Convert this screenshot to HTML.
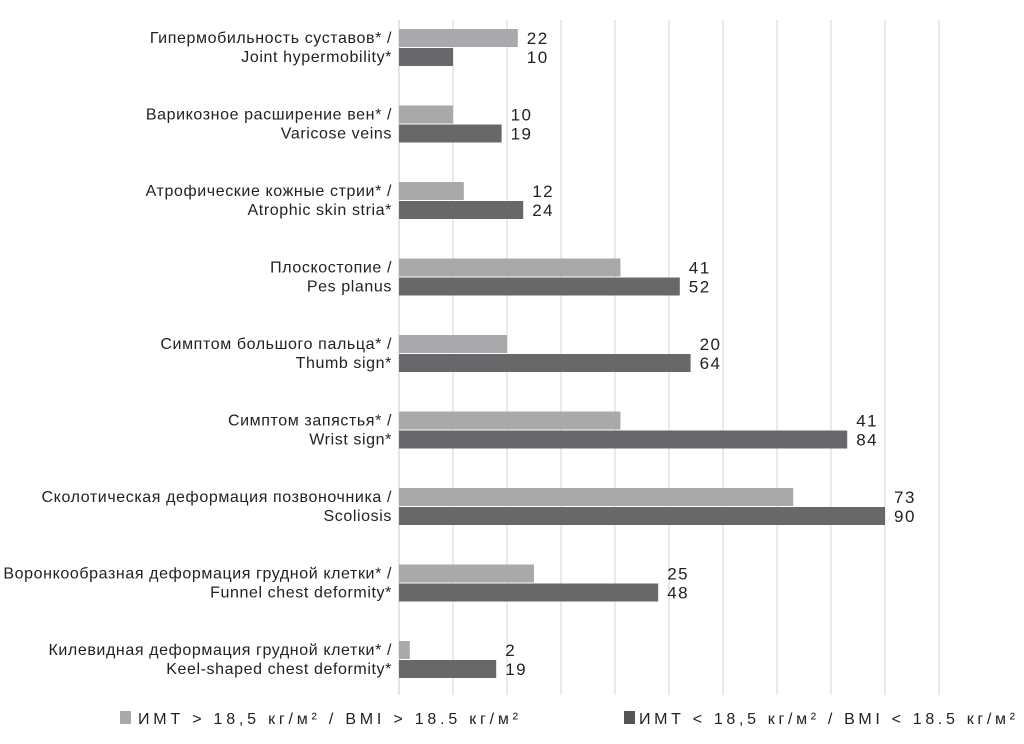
<!DOCTYPE html>
<html><head><meta charset="utf-8">
<style>
body{margin:0;background:#fff;}
svg text{font-family:"Liberation Sans","DejaVu Sans",sans-serif;fill:#222;}
</style></head>
<body>
<svg id="chart" width="1024" height="739" xmlns="http://www.w3.org/2000/svg"></svg>
<script>
const categoriesRu = ["Гипермобильность суставов* /","Варикозное расширение вен* /","Атрофические кожные стрии* /","Плоскостопие /","Симптом большого пальца* /","Симптом запястья* /","Сколотическая деформация позвоночника /","Воронкообразная деформация грудной клетки* /","Килевидная деформация грудной клетки* /"];
const categoriesEn = ["Joint hypermobility*","Varicose veins","Atrophic skin stria*","Pes planus","Thumb sign*","Wrist sign*","Scoliosis","Funnel chest deformity*","Keel-shaped chest deformity*"];
const seriesHigh = [22,10,12,41,20,41,73,25,2];
const seriesLow = [10,19,23,52,54,83,90,48,18];
const labelsHigh = ["22","10","12","41","20","41","73","25","2"];
const labelsLow = ["10","19","24","52","64","84","90","48","19"];
const gridTicks = [0,10,20,30,40,50,60,70,80,90,100];

const svg = document.getElementById('chart');
const NS = "http://www.w3.org/2000/svg";
const x0 = 399, pxPer = 5.4;
const xs = v => x0 + v * pxPer;
const groupY = i => 29 + i * 76.5;
function mk(tag, attrs, txt){const e=document.createElementNS(NS,tag);for(const k in attrs)e.setAttribute(k,attrs[k]);if(txt!==undefined)e.textContent=txt;svg.appendChild(e);return e;}

gridTicks.forEach(t=>{
  const l=mk('line',{x1:xs(t),x2:xs(t),y1:20,y2:695,stroke:t===0?'#c8c8c8':'#d4d4d4','stroke-width':1});
  
  
});

categoriesRu.forEach((c,i)=>{
  const y=groupY(i);
  const b1=mk('rect',{x:x0,y:y,width:xs(seriesHigh[i])-x0,height:18,fill:'#a9a9ab'});
  
  
  const b2=mk('rect',{x:x0,y:y+19,width:xs(seriesLow[i])-x0,height:18,fill:'#68686a'});
  
  
  const t1=mk('text',{x:392,y:y+14,'text-anchor':'end','font-size':16,'letter-spacing':0.6},c);
  
  
  const t2=mk('text',{x:392,y:y+33,'text-anchor':'end','font-size':16,'letter-spacing':0.6},categoriesEn[i]);
  
  
  const lx=xs(Math.max(seriesHigh[i],seriesLow[i]))+9;
  const v1=mk('text',{x:lx,y:y+15,'font-size':17,'letter-spacing':1.5},labelsHigh[i]);
  
  
  const v2=mk('text',{x:lx,y:y+34,'font-size':17,'letter-spacing':1.5},labelsLow[i]);
  
  
});
</script>
<svg style="position:absolute;left:0;top:0" width="1024" height="739" xmlns="http://www.w3.org/2000/svg">
  <g>
    <rect x="120" y="711" width="11" height="13" fill="#a9a9ab"/>
    <text x="138" y="724" font-size="16" textLength="380" style="font-family:'Liberation Sans',sans-serif;fill:#222;">ИМТ &gt; 18,5 кг/м² / BMI &gt; 18.5 кг/м²</text>
  </g>
  <g>
    <rect x="624" y="711" width="11" height="13" fill="#555557"/>
    <text x="639" y="724" font-size="16" textLength="376" style="font-family:'Liberation Sans',sans-serif;fill:#222;">ИМТ &lt; 18,5 кг/м² / BMI &lt; 18.5 кг/м²</text>
  </g>
</svg>
</body></html>
